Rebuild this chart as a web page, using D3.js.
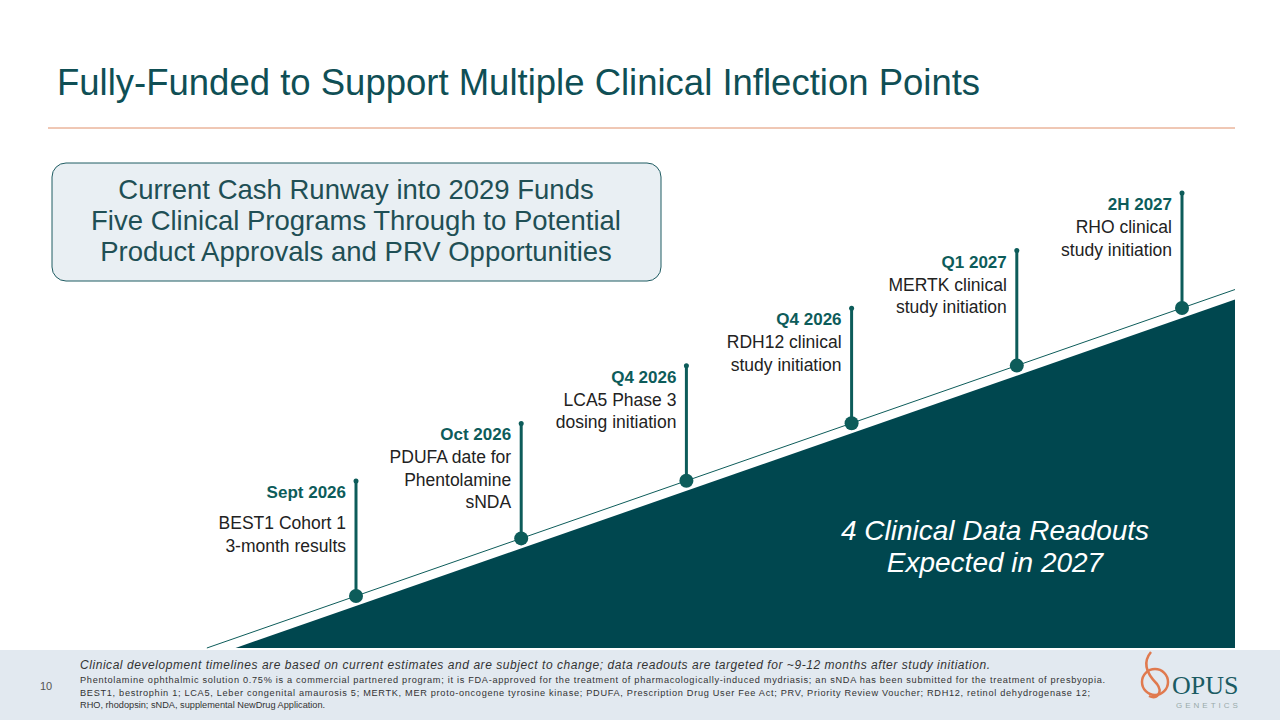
<!DOCTYPE html>
<html><head><meta charset="utf-8">
<script src="https://cdn.jsdelivr.net/npm/d3@7"></script>
<style>body{margin:0;background:#fff;font-family:Arial,"Liberation Sans",sans-serif}</style>
</head><body><div id="c"></div>
<script>
const dates = ['Sept 2026', 'Oct 2026', 'Q4 2026', 'Q4 2026', 'Q1 2027', '2H 2027'];
const descs = [
  ['BEST1 Cohort 1', '3-month results'],
  ['PDUFA date for', 'Phentolamine', 'sNDA'],
  ['LCA5 Phase 3', 'dosing initiation'],
  ['RDH12 clinical', 'study initiation'],
  ['MERTK clinical', 'study initiation'],
  ['RHO clinical', 'study initiation']
];
const boxLines = ['Current Cash Runway into 2029 Funds', 'Five Clinical Programs Through to Potential', 'Product Approvals and PRV Opportunities'];
const footLines = [
  'Phentolamine ophthalmic solution 0.75% is a commercial partnered program; it is FDA-approved for the treatment of pharmacologically-induced mydriasis; an sNDA has been submitted for the treatment of presbyopia.',
  'BEST1, bestrophin 1; LCA5, Leber congenital amaurosis 5; MERTK, MER proto-oncogene tyrosine kinase; PDUFA, Prescription Drug User Fee Act; PRV, Priority Review Voucher; RDH12, retinol dehydrogenase 12;',
  'RHO, rhodopsin; sNDA, supplemental NewDrug Application.'
];

const teal = '#0f4f55', dark = '#00474f', mark = '#0d5c5a';
const W = 1280, H = 720;
const svg = d3.select('#c').append('svg').attr('width', W).attr('height', H);

// title
svg.append('text').attr('x', 57).attr('y', 95).attr('fill', teal).attr('font-size', 36.5).text('Fully-Funded to Support Multiple Clinical Inflection Points');
svg.append('line').attr('x1', 48).attr('x2', 1235).attr('y1', 128).attr('y2', 128).attr('stroke', '#e0906a').attr('stroke-width', 1);

// box
svg.append('rect').attr('x', 52).attr('y', 163).attr('width', 609).attr('height', 118).attr('rx', 14)
  .attr('fill', '#e9eff3').attr('stroke', '#1f5c62').attr('stroke-width', 1);
svg.append('g').selectAll('text').data(boxLines).join('text')
  .attr('x', 356).attr('y', (d, i) => 199 + i * 31).attr('text-anchor', 'middle')
  .attr('font-size', 27.5).attr('fill', '#1f4f55').text(d => d);

// ramp: index -> position along a straight rising line
const x = d3.scaleLinear().domain([0, 5]).range([356, 1182]);
const y = d3.scaleLinear().domain([0, 5]).range([596, 308]);
const yAt = px => y(x.invert(px));
const xAt = py => x(y.invert(py));
const drop = 10;
svg.append('path').attr('fill', dark)
  .attr('d', `M${xAt(648 - drop)},648 L1235,${yAt(1235) + drop} L1235,648 Z`);
svg.append('line').attr('stroke', mark).attr('stroke-width', 1)
  .attr('x1', xAt(648)).attr('y1', 648).attr('x2', 1235).attr('y2', yAt(1235));

// milestones
const stem = 115;
const g = svg.append('g').selectAll('g').data(dates).join('g');
g.append('line').attr('x1', (d, i) => x(i)).attr('x2', (d, i) => x(i))
  .attr('y1', (d, i) => y(i)).attr('y2', (d, i) => y(i) - stem)
  .attr('stroke', mark).attr('stroke-width', 3);
g.append('circle').attr('cx', (d, i) => x(i)).attr('cy', (d, i) => y(i)).attr('r', 7).attr('fill', mark);
g.append('circle').attr('cx', (d, i) => x(i)).attr('cy', (d, i) => y(i) - stem).attr('r', 2.5).attr('fill', mark);
g.append('text').attr('x', (d, i) => x(i) - 10).attr('y', (d, i) => y(i) - stem + 17)
  .attr('text-anchor', 'end').attr('font-weight', 'bold').attr('font-size', 17).attr('fill', mark).text(d => d);
g.each(function (d, i) {
  const gap = i === 0 ? 31 : 23;
  d3.select(this).selectAll('text.desc').data(descs[i]).join('text').attr('class', 'desc')
    .attr('x', x(i) - 10).attr('y', (t, j) => y(i) - stem + 17 + gap + j * 22.5)
    .attr('text-anchor', 'end').attr('font-size', 17.5).attr('fill', '#222').text(t => t);
});

svg.append('g').selectAll('text').data(['4 Clinical Data Readouts', 'Expected in 2027']).join('text')
  .attr('x', 995).attr('y', (d, i) => 540 + i * 32).attr('text-anchor', 'middle')
  .attr('font-size', 28).attr('font-style', 'italic').attr('fill', '#fff').text(d => d);

// footer
svg.append('rect').attr('x', 0).attr('y', 650).attr('width', W).attr('height', 70).attr('fill', '#e2e9f0');
svg.append('text').attr('x', 40).attr('y', 690).attr('font-size', 11).attr('fill', '#555').text('10');
svg.append('text').attr('x', 80).attr('y', 669).attr('font-size', 12).attr('font-style', 'italic').attr('fill', '#333')
  .attr('textLength', 910).text('Clinical development timelines are based on current estimates and are subject to change; data readouts are targeted for ~9-12 months after study initiation.');
svg.append('g').selectAll('text').data(footLines).join('text')
  .attr('x', 80).attr('y', (d, i) => 683 + i * 12.5).attr('font-size', 9.2).attr('fill', '#333')
  .attr('textLength', (d, i) => i === 0 ? 1025 : (i === 1 ? 1010 : null)).text(d => d);

// logo
const lg = svg.append('g').attr('transform', 'translate(1155,682)');
lg.append('circle').attr('r', 13).attr('fill', 'none').attr('stroke', '#e07a4f').attr('stroke-width', 2.5);
lg.append('path').attr('d', 'M-4,-30 C-14,-18 -6,-6 2,2 C8,10 2,18 -6,14').attr('fill', 'none').attr('stroke', '#e07a4f').attr('stroke-width', 2.5);
svg.append('text').attr('x', 1172).attr('y', 694).attr('font-family', '"Liberation Serif",serif').attr('font-size', 26).attr('fill', '#1a5b63').text('OPUS');
svg.append('text').attr('x', 1176).attr('y', 708).attr('font-size', 8).attr('letter-spacing', 3).attr('fill', '#9aa').text('GENETICS');
</script></body></html>
